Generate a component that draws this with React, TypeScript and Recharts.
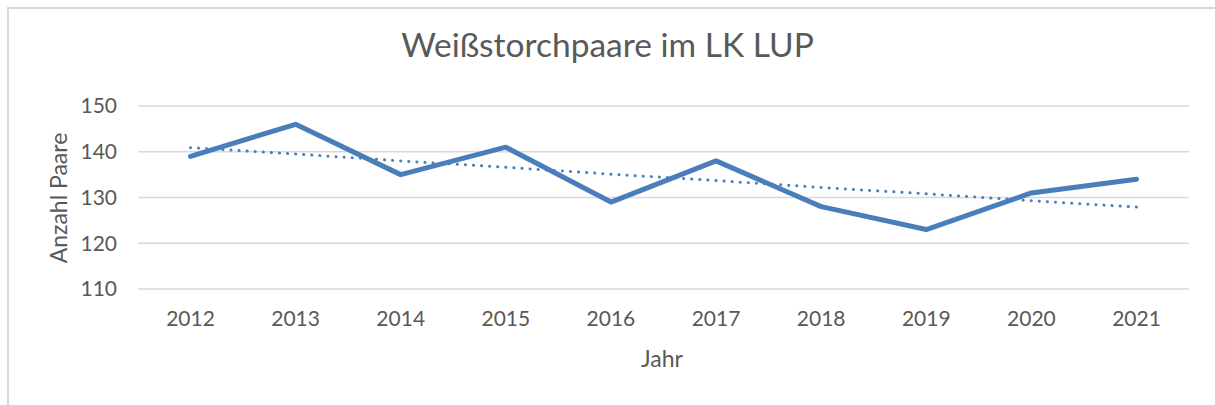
import React from 'react';
import { LineChart, Line, XAxis, YAxis, CartesianGrid, Label } from 'recharts';

const YEARS = ['2012', '2013', '2014', '2015', '2016', '2017', '2018', '2019', '2020', '2021'];
const PAIRS = [139, 146, 135, 141, 129, 138, 128, 123, 131, 134];
// linear trend
const TREND = [140.9, 139.5, 138.0, 136.6, 135.1, 133.7, 132.2, 130.8, 129.3, 127.9];
const Y_TICKS = [110, 120, 130, 140, 150];

const TEXT = '#595959';
const GRID = '#d9d9d9';
const BLUE = '#4a7ebb';
const FONT = 'Lato, "Open Sans", sans-serif';

const data = YEARS.map((year, i) => ({ year, pairs: PAIRS[i], trend: TREND[i] }));

export default function App() {
  return (
    <div style={{ position: 'absolute', left: 0, top: 0, width: 1215, height: 405, background: '#fff', fontFamily: FONT }}>
      <div
        style={{
          position: 'absolute', left: 7, top: 7, right: 0, bottom: 0,
          borderTop: `2px solid ${GRID}`, borderLeft: `2px solid ${GRID}`,
        }}
      />
      <div
        style={{
          position: 'absolute', left: 0, width: 1215, top: 27, lineHeight: '34px',
          textAlign: 'center', fontSize: 33.5, color: TEXT,
        }}
      >
        Weißstorchpaare im LK LUP
      </div>
      <LineChart
        width={1215}
        height={405}
        data={data}
        margin={{ top: 106, right: 26, bottom: 0, left: 0 }}
        style={{ position: 'absolute', left: 0, top: 0 }}
      >
        <CartesianGrid vertical={false} stroke={GRID} strokeWidth={1.5} />
        <XAxis
          dataKey="year"
          height={116}
          axisLine={false}
          tickLine={false}
          tickSize={0}
          tickMargin={22}
          padding={{ left: 52.5, right: 52.5 }}
          tick={{ fill: TEXT, fontSize: 21, fontFamily: FONT }}
          interval={0}
        >
          <Label
            content={() => (
              <text x={662} y={367} textAnchor="middle" fill={TEXT} fontSize={23} fontFamily={FONT}>
                Jahr
              </text>
            )}
          />
        </XAxis>
        <YAxis
          width={138}
          domain={[110, 150]}
          ticks={Y_TICKS}
          axisLine={false}
          tickLine={false}
          tickSize={0}
          tickMargin={21}
          tick={{ fill: TEXT, fontSize: 21, fontFamily: FONT }}
        >
          <Label
            content={() => (
              <text
                x={58}
                y={198}
                transform="rotate(-90 58 198)"
                textAnchor="middle"
                dominantBaseline="central"
                fill={TEXT}
                fontSize={23}
                fontFamily={FONT}
              >
                Anzahl Paare
              </text>
            )}
          />
        </YAxis>
        <Line
          dataKey="pairs"
          type="linear"
          stroke={BLUE}
          strokeWidth={5}
          strokeLinecap="round"
          strokeLinejoin="round"
          dot={false}
          activeDot={false}
          isAnimationActive={false}
        />
        <Line
          dataKey="trend"
          type="linear"
          stroke={BLUE}
          strokeWidth={3}
          strokeDasharray="0.1 8"
          strokeLinecap="round"
          dot={false}
          activeDot={false}
          isAnimationActive={false}
        />
      </LineChart>
    </div>
  );
}
